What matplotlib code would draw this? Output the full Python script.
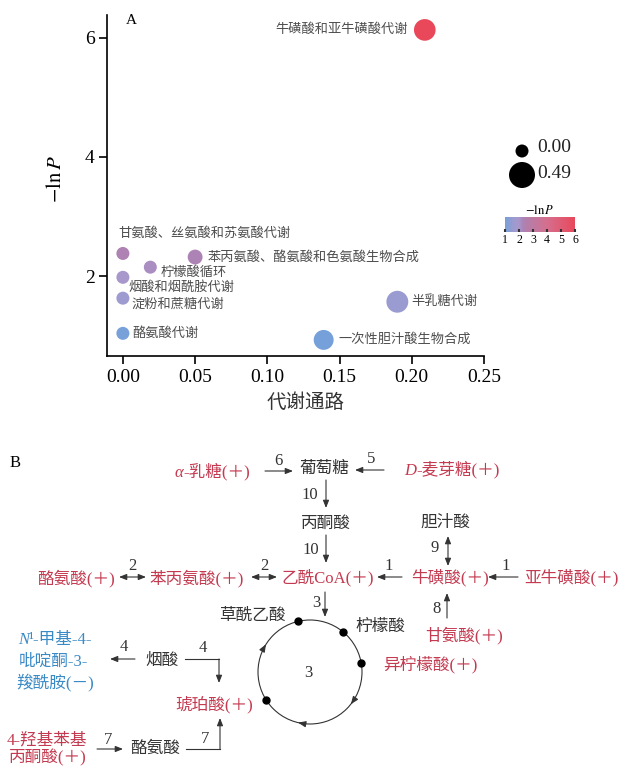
import numpy as np
import matplotlib
matplotlib.use("Agg")
import matplotlib.pyplot as plt
from matplotlib.colors import LinearSegmentedColormap, Normalize
from matplotlib.cm import ScalarMappable
from matplotlib.offsetbox import TextArea, HPacker, AnnotationBbox
from matplotlib.patches import Circle

plt.rcParams['font.family'] = ['Liberation Serif', 'Noto Sans CJK SC']
plt.rcParams['mathtext.fontset'] = 'stix'

# ---- panel A data ----
pathways = ['牛磺酸和亚牛磺酸代谢', '甘氨酸、丝氨酸和苏氨酸代谢', '苯丙氨酸、酪氨酸和色氨酸生物合成',
            '柠檬酸循环', '烟酸和烟酰胺代谢', '淀粉和蔗糖代谢', '酪氨酸代谢',
            '一次性胆汁酸生物合成', '半乳糖代谢']
impact = [0.209, 0.0, 0.05, 0.019, 0.0, 0.0, 0.0, 0.139, 0.19]
neg_ln_p = [6.13, 2.38, 2.32, 2.15, 1.98, 1.63, 1.04, 0.93, 1.57]
size_val = [0.29, 0.0, 0.05, 0.0, 0.0, 0.0, 0.0, 0.22, 0.30]
size_legend = [0.00, 0.49]
xticks = [0.00, 0.05, 0.10, 0.15, 0.20, 0.25]
yticks = [2, 4, 6]
cbar_ticks = [1, 2, 3, 4, 5, 6]

# label placement (offset in points, alignment)
label_pos = [((-12, 0), 'right'), ((-3, 14), 'left'), ((9, 0), 'left'),
             ((7, -4), 'left'), ((4, -7), 'left'), ((6.5, -4.5), 'left'),
             ((7, 0), 'left'), ((11, 0), 'left'), ((10, 0), 'left')]

# ---- panel B data ----
RED, BLUE, DARK = '#c43a50', '#3a8ac6', '#333333'
nodes = {
    'lactose': ([('α', True), ('-乳糖(＋)', False)], RED),
    'glucose': ([('葡萄糖', False)], DARK),
    'maltose': ([('D', True), ('-麦芽糖(＋)', False)], RED),
    'pyruvate': ([('丙酮酸', False)], DARK),
    'bile': ([('胆汁酸', False)], DARK),
    'tyr_p': ([('酪氨酸(＋)', False)], RED),
    'phe': ([('苯丙氨酸(＋)', False)], RED),
    'acoa': ([('乙酰CoA(＋)', False)], RED),
    'taurine': ([('牛磺酸(＋)', False)], RED),
    'hypotaurine': ([('亚牛磺酸(＋)', False)], RED),
    'oxaloacetate': ([('草酰乙酸', False)], DARK),
    'citrate': ([('柠檬酸', False)], DARK),
    'glycine': ([('甘氨酸(＋)', False)], RED),
    'isocitrate': ([('异柠檬酸(＋)', False)], RED),
    'nicotinate': ([('烟酸', False)], DARK),
    'n1_1': ([('N', True), ('¹-甲基-4-', False)], BLUE),
    'n1_2': ([('吡啶酮-3-', False)], BLUE),
    'n1_3': ([('羧酰胺(－)', False)], BLUE),
    'succinate': ([('琥珀酸(＋)', False)], RED),
    'hpp_1': ([('4-羟基苯基', False)], RED),
    'hpp_2': ([('丙酮酸(＋)', False)], RED),
    'tyr': ([('酪氨酸', False)], DARK),
}
layout = {
    'lactose': (212, 472), 'glucose': (324, 469), 'maltose': (452, 470),
    'pyruvate': (326, 524), 'bile': (445, 523), 'tyr_p': (76, 578),
    'phe': (197, 578), 'acoa': (328, 578), 'taurine': (450, 578),
    'hypotaurine': (571, 578), 'oxaloacetate': (252, 616), 'citrate': (380, 627),
    'glycine': (464, 635), 'isocitrate': (430, 665), 'nicotinate': (162, 661),
    'n1_1': (55, 640), 'n1_2': (53, 662), 'n1_3': (55, 683),
    'succinate': (214, 705), 'hpp_1': (47, 740), 'hpp_2': (48, 758),
    'tyr': (155, 749),
}
# reactions: label, path (tail ... head), style
edges = [
    ('6', [(265, 471), (293, 471)], '-|>', (278, 461)),
    ('5', [(384, 470), (355, 470)], '-|>', (371, 459)),
    ('10', [(326, 480), (326, 508)], '-|>', (310, 495)),
    ('10', [(326, 535), (326, 563)], '-|>', (311, 550)),
    ('1', [(402, 577), (377, 577)], '-|>', (389, 566)),
    ('1', [(518, 577), (488, 577)], '-|>', (506, 566)),
    ('9', [(448, 536), (448, 566)], '<|-|>', (435, 548)),
    ('2', [(119, 577), (146, 577)], '<|-|>', (132, 566)),
    ('2', [(251, 577), (277, 577)], '<|-|>', (264, 566)),
    ('3', [(325, 592), (325, 617)], '-|>', (316, 603)),
    ('8', [(447, 618), (447, 593)], '-|>', (437, 609)),
    ('4', [(135, 659), (110, 659)], '-|>', (124, 647)),
    ('4', [(185, 659), (219, 659), (219, 683)], '-|>', (203, 648)),
    ('7', [(97, 749), (123, 749)], '-|>', (108, 740)),
    ('7', [(186, 749), (220, 749), (220, 718)], '-|>', (205, 739)),
]
tca_center, tca_r = (310, 672), 52
tca_dots = [103.5, 51, 10, 213]
tca_arrows = [150, 259, 324]

# ---- figure ----
fig = plt.figure(figsize=(6.24, 7.69), dpi=100)

cmap = LinearSegmentedColormap.from_list('nlp', [
    (0.0, '#76a0da'), (0.12, '#9c9bd0'), (0.2, '#a897cb'), (0.25, '#ab84b9'),
    (0.3, '#b27fab'), (0.6, '#d56f8e'), (1.0, '#e8485a')])
norm = Normalize(1, 6)


def area(v):
    d_px = np.sqrt(169 + 507 * np.asarray(v) / 0.49)
    return (d_px * 0.72) ** 2


ax = fig.add_axes([107 / 624, 1 - 356 / 769, 377 / 624, 341 / 769])
ax.scatter(impact, neg_ln_p, s=area(size_val), c=neg_ln_p, cmap=cmap, norm=norm,
           edgecolors='none', zorder=3, clip_on=False)
for name, x, y, (off, ha) in zip(pathways, impact, neg_ln_p, label_pos):
    ax.annotate(name, (x, y), xytext=off, textcoords='offset points', ha=ha, va='center',
                fontsize=9.5, color='#4d4d4d')
ax.set_xlim(-0.011, 0.25)
ax.set_ylim(0.66, 6.38)
ax.set_xticks(xticks)
ax.set_xticklabels(['%.2f' % t for t in xticks])
ax.set_yticks(yticks)
for s in ['top', 'right']:
    ax.spines[s].set_visible(False)
for s in ['left', 'bottom']:
    ax.spines[s].set_linewidth(1.2)
ax.tick_params(labelsize=14, length=6, width=1.2, pad=3)
ax.set_xlabel('代谢通路', fontsize=14, color='#333333')
ax.xaxis.set_label_coords(0.528, -0.108)
ax.set_ylabel(r'$-\ln P$', fontsize=15)
ax.yaxis.set_label_coords(-0.109, 0.52)
fig.text(131 / 624, 1 - 20 / 769, 'A', fontsize=11, ha='center', va='center')

# colour bar
cax = fig.add_axes([505 / 624, 1 - 232 / 769, 70 / 624, 15 / 769])
cb = fig.colorbar(ScalarMappable(norm=norm, cmap=cmap), cax=cax, orientation='horizontal',
                  ticks=cbar_ticks)
cb.outline.set_visible(False)
cax.tick_params(length=2, width=1.5, direction='in', labelsize=8.5, pad=1.5, color='#333333')
cax.set_title(r'$-\ln P$', fontsize=9, pad=1)

# overlay axes in pixel units for the size legend and panel B
ax2 = fig.add_axes([0, 0, 1, 1])
ax2.set_xlim(0, 624)
ax2.set_ylim(769, 0)
ax2.axis('off')
ax2.patch.set_alpha(0)

ax2.scatter([522] * len(size_legend), [151, 175], s=area(size_legend), c='black',
            edgecolors='none', clip_on=False)
for v, y in zip(size_legend, [148, 174]):
    ax2.text(537, y, '%.2f' % v, fontsize=14, ha='left', va='center', color='#222222')

ax2.text(15, 463, 'B', fontsize=12, ha='center', va='center')


def rich(x, y, parts, color, size=12):
    boxes = []
    for t, it in parts:
        props = dict(color=color, fontsize=size)
        if it:
            props.update(style='italic', family='Liberation Serif')
        boxes.append(TextArea(t, textprops=props))
    pack = HPacker(children=boxes, pad=0, sep=0, align='baseline')
    ab = AnnotationBbox(pack, (x, y), xycoords='data', frameon=False,
                        box_alignment=(0.5, 0.5), pad=0)
    ax2.add_artist(ab)


for key, (parts, color) in nodes.items():
    x, y = layout[key]
    if len(parts) == 1:
        ax2.text(x, y, parts[0][0], fontsize=12, color=color, ha='center', va='center')
    else:
        rich(x, y, parts, color)


def arrow(p0, p1, style='-|>'):
    ax2.annotate('', xy=p1, xytext=p0,
                 arrowprops=dict(arrowstyle=style + ',head_length=0.45,head_width=0.18',
                                 color=DARK, lw=0.8, shrinkA=0, shrinkB=0, mutation_scale=10))


for lab, path, style, lpos in edges:
    if len(path) > 2:
        xs, ys = zip(*path[:-1])
        ax2.plot(xs, ys, color=DARK, lw=0.8)
    arrow(path[-2], path[-1], style)
    ax2.text(lpos[0], lpos[1], lab, fontsize=12, color=DARK, ha='center', va='center')

cx, cy = tca_center
ax2.add_patch(Circle(tca_center, tca_r, fill=False, lw=0.8, ec=DARK))
ax2.text(cx - 2, cy + 1, '3', fontsize=12, color=DARK, ha='center', va='center')
th = np.radians(tca_dots)
ax2.plot(cx + tca_r * np.cos(th), cy - tca_r * np.sin(th), 'o', color='black', ms=5)
for a in np.radians(tca_arrows):
    p = np.array([cx + tca_r * np.cos(a), cy - tca_r * np.sin(a)])
    t = np.array([np.sin(a), np.cos(a)])
    arrow(tuple(p - 2 * t), tuple(p + 2 * t))

fig.savefig('out.png', dpi=100)
